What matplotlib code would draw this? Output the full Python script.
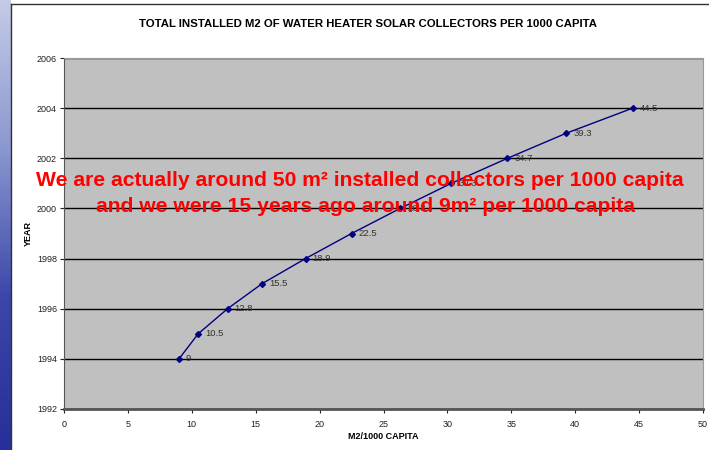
import numpy as np
import matplotlib.pyplot as plt

# installed collector area per 1000 inhabitants, by year
years = [1994, 1995, 1996, 1997, 1998, 1999, 2000, 2001, 2002, 2003, 2004]
m2_per_1000 = [9, 10.5, 12.8, 15.5, 18.9, 22.5, 26.3, 30.3, 34.7, 39.3, 44.5]
x_ticks = [0, 5, 10, 15, 20, 25, 30, 35, 40, 45, 50]
y_ticks = [1992, 1994, 1996, 1998, 2000, 2002, 2004, 2006]

fig = plt.figure(figsize=(7.09, 4.5), dpi=100)
plt.rcParams['font.family'] = ['Liberation Sans', 'DejaVu Sans']

# slide background strip on the left
strip = fig.add_axes([0, 0, 11 / 709, 1])
grad = np.linspace(0, 1, 200)[:, None]
strip.imshow(grad, aspect='auto', cmap=plt.matplotlib.colors.LinearSegmentedColormap.from_list(
    'slide', ['#c4cbe6', '#8a96cf', '#3a46a8', '#26309a']), extent=[0, 1, 0, 1])
strip.axis('off')
fig.add_artist(plt.Line2D([11 / 709, 11 / 709], [0, 1 - 4 / 450], color='#333333', lw=1))
fig.add_artist(plt.Line2D([11 / 709, 1], [1 - 4 / 450, 1 - 4 / 450], color='#333333', lw=1))

ax = fig.add_axes([64 / 709, 1 - 409 / 450, 639 / 709, 351 / 450])
ax.set_facecolor('#c0c0c0')
ax.plot(m2_per_1000, years, color='#000080', lw=1, marker='D', ms=3, zorder=3)
for v, yr in zip(m2_per_1000, years):
    ax.annotate('%g' % v, (v, yr), xytext=(5, 0), textcoords='offset points',
                va='center', ha='left', fontsize=6.8, color='#333333', zorder=4)

ax.set_xlim(0, 50)
ax.set_ylim(1992, 2006)
ax.set_xticks(x_ticks)
ax.set_yticks(y_ticks)
ax.tick_params(labelsize=6.5, length=3, colors='#222222', pad=5)
ax.tick_params(axis='y', pad=2)
ax.yaxis.grid(True, color='black', lw=1)
ax.set_axisbelow(True)
for s in ['top', 'right']:
    ax.spines[s].set_color('#999999')
ax.spines['left'].set_color('#555555')
ax.spines['bottom'].set_color('#555555')
ax.spines['bottom'].set_linewidth(2)

ax.set_xlabel('M2/1000 CAPITA', fontsize=6.5, fontweight='bold', labelpad=2)
ax.set_ylabel('YEAR', fontsize=6.5, fontweight='bold', labelpad=3)
fig.text(368 / 709, 1 - 24 / 450, 'TOTAL INSTALLED M2 OF WATER HEATER SOLAR COLLECTORS PER 1000 CAPITA',
         ha='center', va='center', fontsize=8.2, fontweight='bold')

fig.text(360 / 709, 1 - 181 / 450, 'We are actually around 50 m² installed collectors per 1000 capita',
         ha='center', va='center', fontsize=15.2, fontweight='bold', color='#ff0000', zorder=10)
fig.text(366 / 709, 1 - 206 / 450, 'and we were 15 years ago around 9m² per 1000 capita',
         ha='center', va='center', fontsize=15.2, fontweight='bold', color='#ff0000', zorder=10)

fig.savefig('out.png', dpi=100)
